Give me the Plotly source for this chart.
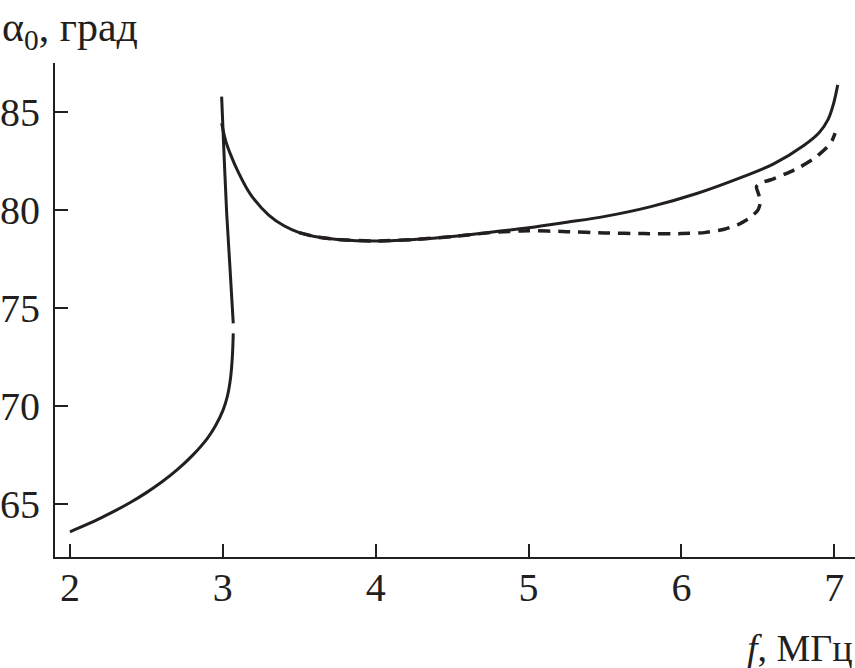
import plotly.graph_objects as go

# Left branch (solid), lower part
low_f = [2.0, 2.1, 2.2, 2.3, 2.4, 2.5, 2.6, 2.7, 2.8, 2.9, 2.95, 3.0, 3.03, 3.05, 3.062, 3.068]
low_a = [63.56, 63.9, 64.26, 64.65, 65.08, 65.56, 66.1, 66.72, 67.45, 68.35, 68.95, 69.75, 70.5, 71.4, 72.5, 73.7]

# Near-vertical branch (solid)
vert_f = [3.068, 3.047, 3.025, 3.008, 2.992]
vert_a = [74.21, 77.0, 79.84, 82.8, 85.8]

# Main branch (solid)
main_f = [2.992, 3.02, 3.05, 3.1, 3.15, 3.2, 3.3, 3.4, 3.5, 3.6, 3.75, 4.0, 4.25, 4.5, 4.75, 5.0, 5.25, 5.5, 5.8, 6.1, 6.4, 6.6, 6.8, 6.9, 6.96, 6.995, 7.022]
main_a = [84.44, 83.5, 82.85, 81.95, 81.2, 80.6, 79.75, 79.2, 78.85, 78.65, 78.5, 78.42, 78.5, 78.65, 78.87, 79.1, 79.38, 79.68, 80.18, 80.85, 81.7, 82.35, 83.3, 83.95, 84.65, 85.45, 86.4]

# Dashed branch
dash_f = [3.5, 3.6, 3.75, 4.0, 4.25, 4.5, 4.75, 5.0, 5.25, 5.5, 5.75, 6.0, 6.15, 6.28, 6.38, 6.45, 6.5, 6.515, 6.505, 6.49, 6.52, 6.58, 6.68, 6.78, 6.87, 6.95, 6.985, 7.005]
dash_a = [78.85, 78.65, 78.5, 78.42, 78.5, 78.65, 78.85, 78.95, 78.9, 78.83, 78.8, 78.8, 78.85, 79.02, 79.3, 79.62, 80.0, 80.35, 80.8, 81.2, 81.4, 81.54, 81.85, 82.22, 82.65, 83.2, 83.55, 83.93]

x_ticks = [2, 3, 4, 5, 6, 7]
y_ticks = [65, 70, 75, 80, 85]

line_col = "#231f20"
fig = go.Figure()
for fx, ay in [(low_f, low_a), (vert_f, vert_a), (main_f, main_a)]:
    fig.add_trace(go.Scatter(x=fx, y=ay, mode="lines",
                             line=dict(color=line_col, width=3, shape="spline", smoothing=1.0),
                             showlegend=False, hoverinfo="skip"))
fig.add_trace(go.Scatter(x=dash_f, y=dash_a, mode="lines",
                         line=dict(color=line_col, width=3.5, dash="12px,8px", shape="spline", smoothing=0.5),
                         showlegend=False, hoverinfo="skip"))

font = dict(family="Liberation Serif, Times New Roman, serif", size=40, color="#231f20")
fig.update_layout(
    width=855, height=668,
    margin=dict(l=55, r=0, t=63, b=111),
    paper_bgcolor="white", plot_bgcolor="white",
    font=font,
    xaxis=dict(range=[1.902, 7.135], tickvals=x_ticks, ticks="inside", ticklen=13, tickwidth=2, tickcolor=line_col,
               showline=True, linewidth=2, linecolor=line_col, showgrid=False, zeroline=False,
               ticklabelstandoff=-6, automargin=False),
    yaxis=dict(range=[62.27, 87.52], tickvals=y_ticks, ticks="inside", ticklen=13, tickwidth=2, tickcolor=line_col,
               showline=True, linewidth=2, linecolor=line_col, showgrid=False, zeroline=False,
               ticklabelstandoff=5, automargin=False),
    annotations=[
        dict(text="α<sub>0</sub>, град", xref="paper", yref="paper", x=-0.06875, y=1.1235, xanchor="left", yanchor="top",
             showarrow=False, font=dict(size=42)),
        dict(text="<i>f</i>, МГц", xref="paper", yref="paper", x=1.0, y=-0.2308, xanchor="right", yanchor="bottom",
             showarrow=False, font=dict(size=38)),
    ],
)
fig.write_html("out.html", config={"displayModeBar": False},
               post_script="document.body.style.margin='0px';document.body.style.overflow='hidden';")
